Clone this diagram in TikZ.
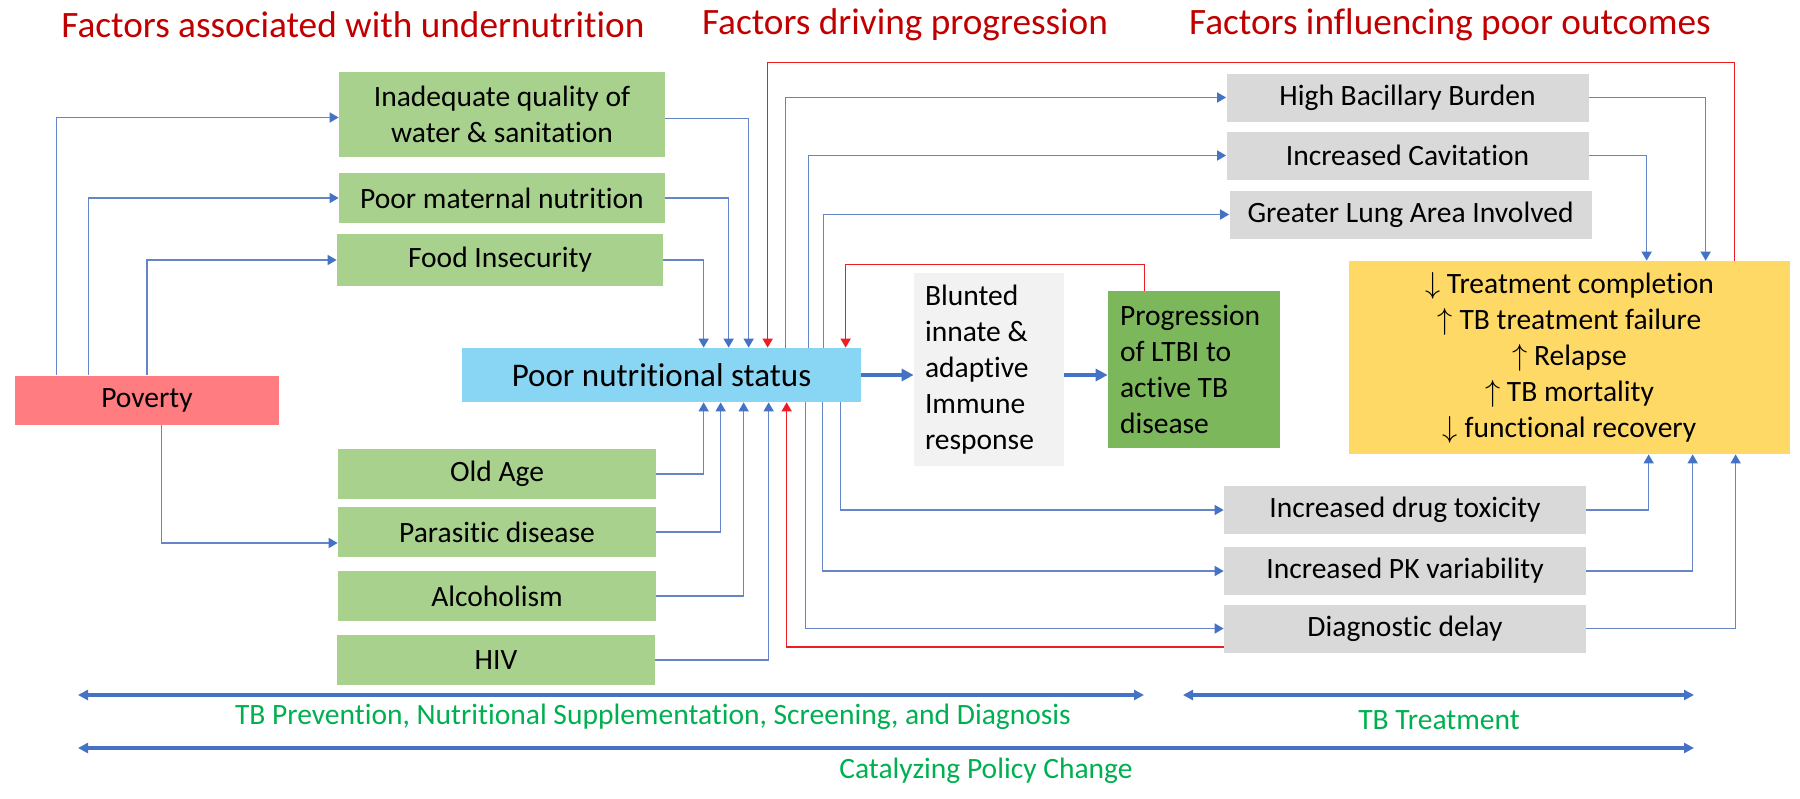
\documentclass[tikz,border=0pt]{standalone}
\usepackage{fontspec}
\setmainfont{Carlito}[Ligatures=NoCommon]
\usetikzlibrary{arrows.meta, positioning, calc}

\definecolor{verdecl}{HTML}{A9D18E}
\definecolor{verdeosc}{HTML}{7DB75B}
\definecolor{rosa}{HTML}{FF7C80}
\definecolor{celeste}{HTML}{89D6F4}
\definecolor{grisclaro}{HTML}{F2F2F2}
\definecolor{grisbox}{HTML}{D9D9D9}
\definecolor{amarillo}{HTML}{FFD966}
\definecolor{azul}{HTML}{4472C4}
\definecolor{azulcl}{HTML}{6485C8}
\definecolor{rojo}{HTML}{F01C24}
\definecolor{rojotit}{HTML}{C00000}
\definecolor{verdetxt}{HTML}{00B050}

\begin{document}
\begin{tikzpicture}[
        x=0.2mm, y=-0.2mm,
        caja/.style={
            rectangle,
            inner sep=0pt,
            align=center,
            font=\fontsize{16.8}{20.5}\selectfont
        },
        factor/.style={
            caja,
            fill=verdecl,
            minimum width=6.52cm,
            minimum height=1cm
        },
        gris/.style={
            caja,
            fill=grisbox,
            minimum width=7.24cm,
            minimum height=0.96cm
        },
        titulo/.style={font=\fontsize{21.2}{25}\selectfont, text=rojotit},
        banda/.style={font=\fontsize{16.8}{20.5}\selectfont, text=verdetxt},
        flecha/.style={-{Triangle[length=1.8mm, width=2mm, color=azul]}, line width=0.9pt, draw=azulcl},
        flecharoja/.style={-{Triangle[length=1.8mm, width=2mm]}, line width=0.9pt, draw=rojo},
        gruesa/.style={-{Triangle[length=2.4mm, width=2.4mm]}, line width=2.2pt, draw=azul},
        doble/.style={{Triangle[length=2mm, width=2mm]}-{Triangle[length=2mm, width=2mm]}, line width=2pt, draw=azul}
    ]
        \useasboundingbox (0,0) rectangle (1800,799);

        \node[titulo] (tit1) at (353,25) {Factors associated with undernutrition};
        \node[titulo] (tit2) at (905,25) {Factors driving progression};
        \node[titulo] (tit3) at (1450,25) {Factors influencing poor outcomes};

        \node[caja, fill=rosa, minimum width=5.28cm, minimum height=0.98cm] (pobreza) at (147,400) {Poverty};

        \node[factor, minimum height=1.7cm] (agua) at (502,114.5) {
            Inadequate quality of\\water \& sanitation
        };
        \node[factor] (materna) at (502,198) {Poor maternal nutrition};
        \node[factor, minimum height=1.04cm] (inseg) at (500,260) {Food Insecurity};
        \node[factor, minimum width=6.36cm] (edad) at (497,474) {Old Age};
        \node[factor, minimum width=6.36cm] (parasit) at (497,532) {Parasitic disease};
        \node[factor, minimum width=6.36cm] (alcohol) at (497,596) {Alcoholism};
        \node[factor, minimum width=6.36cm] (vih) at (496,660) {HIV};

        \node[caja, fill=celeste, minimum width=7.98cm, minimum height=1.08cm,
            font=\fontsize{18.8}{22}\selectfont] (estado) at (661.5,375) {Poor nutritional status};

        \node[caja, fill=grisclaro, align=flush left, text width=2.56cm, inner xsep=0.22cm,
            minimum height=3.86cm] (inmune) at (989,369.5) {
            Blunted\\innate \&\\adaptive\\Immune\\response
        };

        \node[caja, fill=verdeosc, align=flush left, text width=2.96cm, inner xsep=0.24cm,
            minimum height=3.14cm] (progre) at (1194,369.5) {
            Progression\\of LTBI to\\active TB\\disease
        };

        \node[gris] (bacil) at (1407.5,97.5) {High Bacillary Burden};
        \node[gris] (cavit) at (1407.5,155.5) {Increased Cavitation};
        \node[gris] (pulmon) at (1410.5,214.5) {Greater Lung Area Involved};
        \node[gris] (toxic) at (1405,510) {Increased drug toxicity};
        \node[gris] (farmaco) at (1405,571) {Increased PK variability};
        \node[gris] (retraso) at (1405,628.5) {Diagnostic delay};

        \node[caja, fill=amarillo, minimum width=8.82cm, minimum height=3.86cm] (result) at (1569.5,357.5) {
            $\downarrow$ Treatment completion\\
            $\uparrow$ TB treatment failure\\
            $\uparrow$ Relapse\\
            $\uparrow$ TB mortality\\
            $\downarrow$ functional recovery
        };

        \draw[flecha] ($(pobreza.north west)+(42,0)$) |- ($(agua.west)+(0,3)$);
        \draw[flecha] ($(pobreza.north west)+(74,0)$) |- (materna.west);
        \draw[flecha] (pobreza.north) |- (inseg.west);
        \draw[flecha] ($(pobreza.south west)+(147,0)$) |- ($(parasit.west)+(0,11)$);

        \draw[flecha] (inseg.east) -| ($(estado.north west)+(242,0)$);
        \draw[flecha] (materna.east) -| ($(estado.north west)+(267,0)$);
        \draw[flecha] ($(agua.east)+(0,4)$) -| ($(estado.north west)+(287,0)$);
        \draw[flecharoja] ($(result.north west)+(386,0)$) -- ++(0,-198) -| ($(estado.north west)+(306,0)$);

        \draw[flecha] ($(estado.north west)+(324,0)$) |- (bacil.west);
        \draw[flecha] ($(estado.north west)+(347,0)$) |- (cavit.west);
        \draw[flecha] ($(estado.north west)+(362,0)$) |- (pulmon.west);
        \draw[flecharoja] ($(progre.north west)+(37,0)$) -- ++(0,-26) -| ($(estado.north west)+(384,0)$);

        \draw[flecha] (edad.east) -| ($(estado.south west)+(242,0)$);
        \draw[flecha] (parasit.east) -| ($(estado.south west)+(259,0)$);
        \draw[flecha] (alcohol.east) -| ($(estado.south west)+(282,0)$);
        \draw[flecha] (vih.east) -| ($(estado.south west)+(307,0)$);
        \draw[flecharoja] ($(retraso.south west)+(0,-6)$) -| ($(estado.south west)+(325,0)$);

        \draw[flecha] ($(estado.south west)+(344,0)$) |- (retraso.west);
        \draw[flecha] ($(estado.south west)+(361,0)$) |- (farmaco.west);
        \draw[flecha] ($(estado.south west)+(379,0)$) |- (toxic.west);

        \draw[gruesa] (estado.east) -- (estado.east -| inmune.west);
        \draw[gruesa] (inmune.east |- estado.east) -- (progre.west |- estado.east);

        \draw[flecha] (bacil.east) -| ($(result.north west)+(357,0)$);
        \draw[flecha] (cavit.east) -| ($(result.north west)+(298,0)$);
        \draw[flecha] (toxic.east) -| ($(result.south west)+(300,0)$);
        \draw[flecha] (farmaco.east) -| ($(result.south west)+(344,0)$);
        \draw[flecha] (retraso.east) -| ($(result.south west)+(387,0)$);

        \coordinate (prevA) at (78,695);
        \coordinate (prevB) at (1144,695);
        \coordinate (tratA) at (1183,695);
        \coordinate (tratB) at (1694,695);
        \coordinate (polA) at (78,748);
        \coordinate (polB) at (1694,748);

        \draw[doble] (prevA) -- (prevB);
        \draw[doble] (tratA) -- (tratB);
        \draw[doble] (polA) -- (polB);

        \node[banda] (prevtxt) at (653,717) {TB Prevention, Nutritional Supplementation, Screening, and Diagnosis};
        \node[banda] (trattxt) at (1439,720) {TB Treatment};
        \node[banda] (poltxt) at (986,771) {Catalyzing Policy Change};
    \end{tikzpicture}
\end{document}
